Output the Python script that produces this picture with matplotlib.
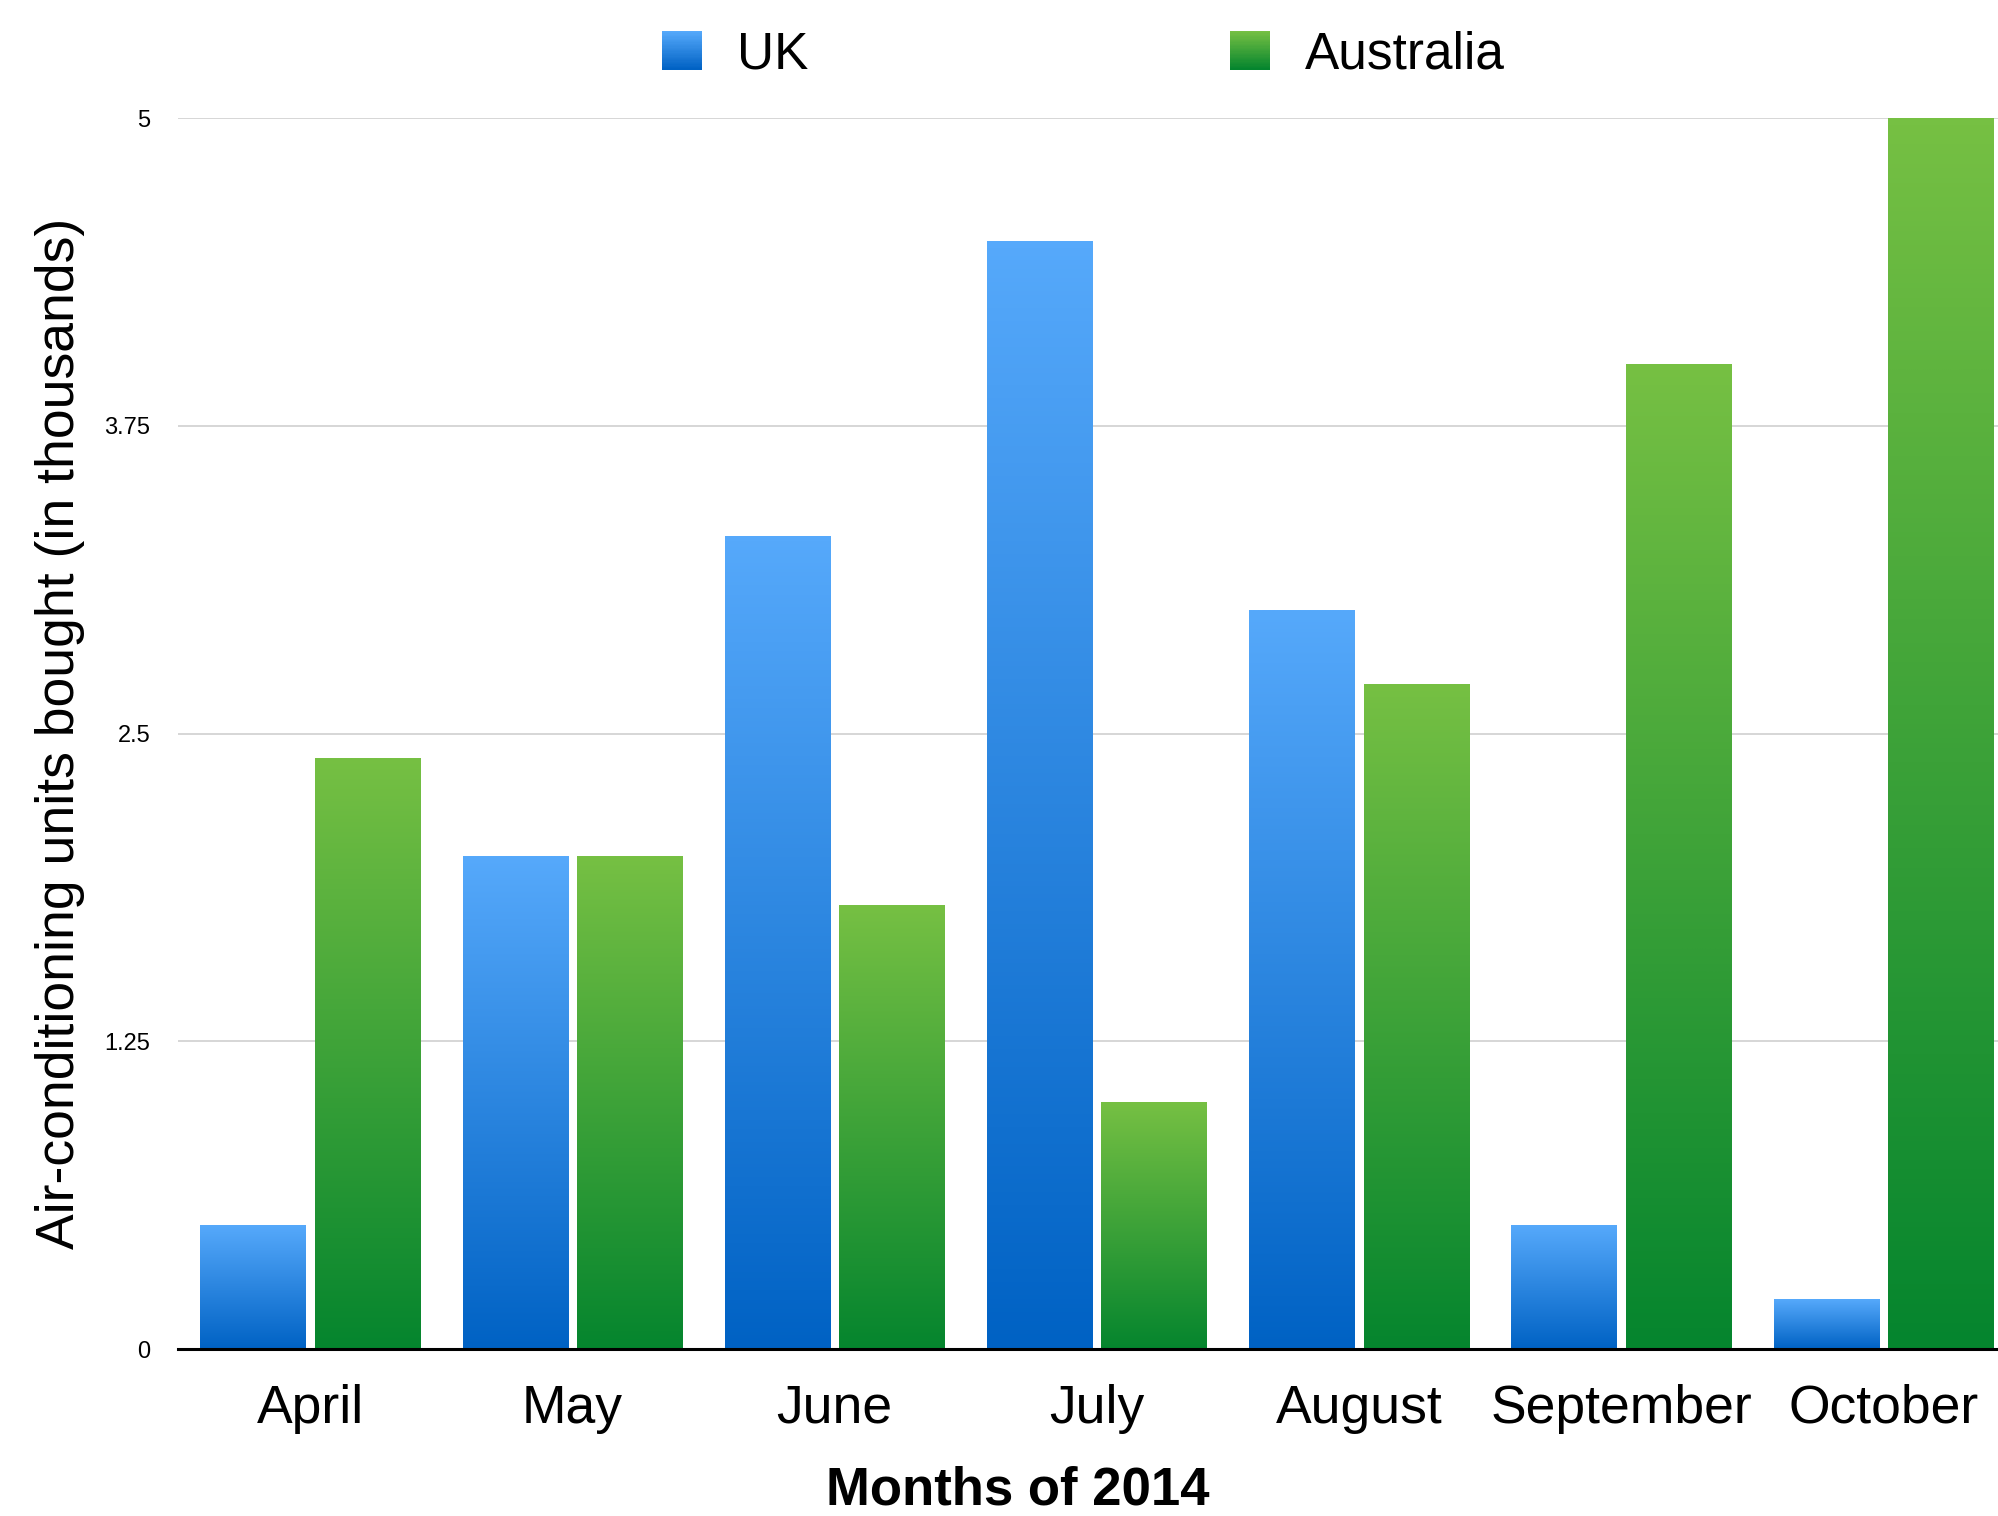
import numpy as np
import matplotlib.pyplot as plt
from matplotlib.colors import LinearSegmentedColormap
from matplotlib.patches import Rectangle
from matplotlib.legend_handler import HandlerBase

months = ["April", "May", "June", "July", "August", "September", "October"]
uk = [0.5, 2.0, 3.3, 4.5, 3.0, 0.5, 0.2]
australia = [2.4, 2.0, 1.8, 1.0, 2.7, 4.0, 5.0]
yticks = [0, 1.25, 2.5, 3.75, 5]
ytick_labels = ["0", "1.25", "2.5", "3.75", "5"]

uk_cmap = LinearSegmentedColormap.from_list("uk", ["#0062c4", "#56a9fb"])
au_cmap = LinearSegmentedColormap.from_list("au", ["#05852e", "#76c043"])

plt.rcParams['font.family'] = ['Liberation Sans', 'DejaVu Sans']

fig = plt.figure(figsize=(19.99, 15.16), dpi=100)
ax = fig.add_axes([0.089, 0.110, 0.911, 0.812])

x = np.arange(len(months))
w = 0.403
off = 0.218
grad = np.linspace(0, 1, 256).reshape(-1, 1)


def gradient_bars(xs, vals, cmap):
    # invisible bars, then a vertical gradient image inside each one
    bars = ax.bar(xs, vals, width=w, color='none', edgecolor='none')
    for b in bars:
        x0, y0 = b.get_x(), b.get_y()
        ax.imshow(grad, cmap=cmap, origin='lower', aspect='auto',
                  extent=(x0, x0 + b.get_width(), y0, y0 + b.get_height()),
                  zorder=2, interpolation='bilinear')


gradient_bars(x - off, uk, uk_cmap)
gradient_bars(x + off, australia, au_cmap)

# the right edge of the plot cuts into the last group, as in the original
ax.set_xlim(-0.505, 6.44)
ax.set_ylim(0, 5)
ax.set_xticks(x)
ax.set_xticklabels(months, fontsize=38.5)
ax.set_yticks(yticks)
ax.set_yticklabels(ytick_labels, fontsize=17)
ax.tick_params(axis='both', length=0)
ax.tick_params(axis='x', pad=25)
ax.tick_params(axis='y', pad=20)

for s in ['left', 'top', 'right']:
    ax.spines[s].set_visible(False)
ax.spines['bottom'].set_linewidth(2.2)
ax.spines['bottom'].set_zorder(5)

ax.yaxis.grid(True, color='#d0d0d0', linewidth=1.2)
ax.set_axisbelow(True)

fig.text(0.03, 0.516, "Air-conditioning units bought (in thousands)",
         rotation=90, ha='center', va='center', fontsize=38.5)
fig.text(0.509, 0.0005, "Months of 2014", ha='center', va='bottom',
         fontsize=38, fontweight='bold')


class GradientHandler(HandlerBase):
    def __init__(self, cmap):
        super().__init__()
        self.cmap = cmap

    def create_artists(self, legend, orig_handle, xdescent, ydescent,
                       width, height, fontsize, trans):
        n = 30
        arts = []
        for i in range(n):
            r = Rectangle((-xdescent, -ydescent + i * height / n), width,
                          height / n * 1.05, facecolor=self.cmap(i / (n - 1)),
                          linewidth=0, transform=trans)
            arts.append(r)
        return arts


h_uk = Rectangle((0, 0), 1, 1)
h_au = Rectangle((0, 0), 1, 1)
fig.legend([h_uk, h_au], ["UK", "Australia"],
           handler_map={h_uk: GradientHandler(uk_cmap), h_au: GradientHandler(au_cmap)},
           ncol=2, loc='center', bbox_to_anchor=(0.542, 0.964), frameon=False,
           fontsize=37, handlelength=0.78, handleheight=0.78,
           handletextpad=0.68, columnspacing=8.2)

fig.savefig("out.png", dpi=100)
